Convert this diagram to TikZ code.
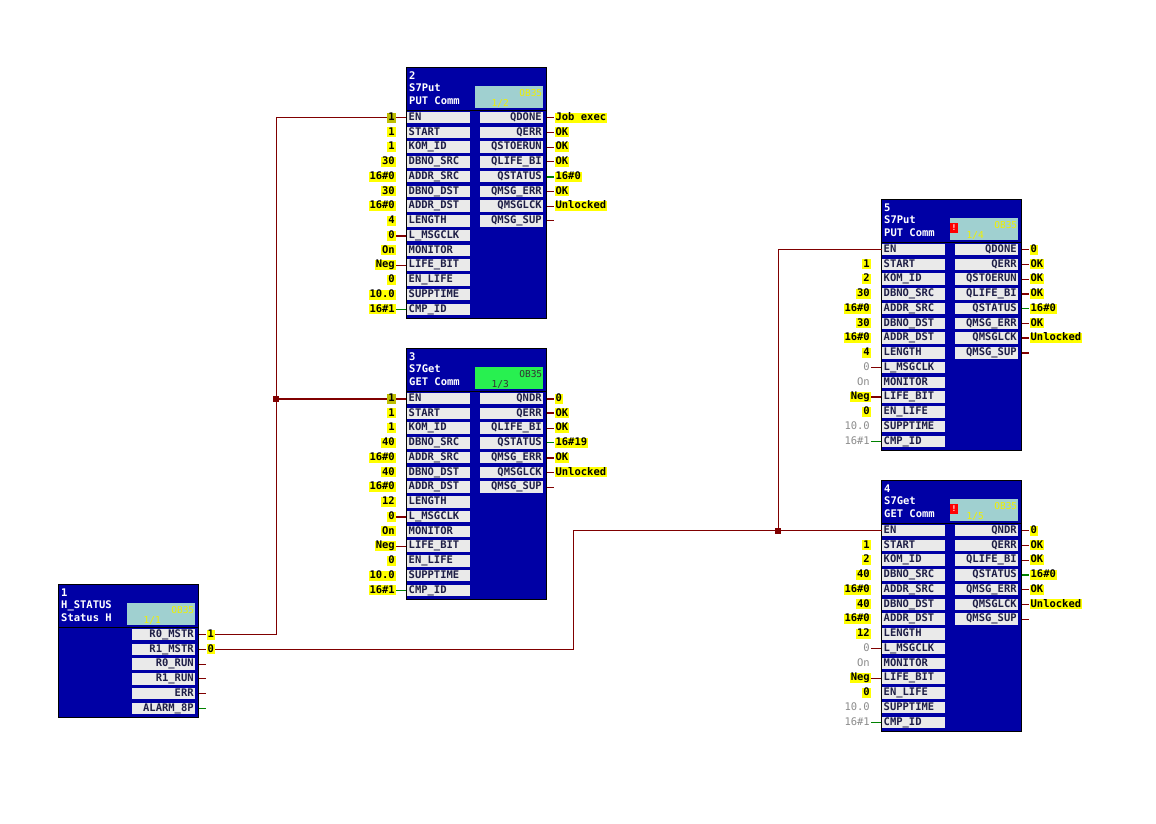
\documentclass[tikz,border=0pt]{standalone}
\usepackage{fontspec}
\setmonofont{DejaVu Sans Mono}
\usetikzlibrary{calc}

\definecolor{fbblue}{RGB}{0,0,165}
\definecolor{rowgray}{RGB}{234,234,234}
\definecolor{labink}{RGB}{30,30,70}
\definecolor{obteal}{RGB}{160,208,208}
\definecolor{obgreen}{RGB}{40,240,80}
\definecolor{obink}{RGB}{240,240,0}
\definecolor{valyellow}{RGB}{255,255,0}
\definecolor{valolive}{RGB}{190,190,0}
\definecolor{wirered}{RGB}{128,0,0}
\definecolor{wiregreen}{RGB}{0,130,0}

\begin{document}
\begin{tikzpicture}[
  x=1pt, y=-1pt,
  font=\ttfamily\bfseries\fontsize{10.5}{12}\selectfont,
  fb/.style={draw=black, line width=1.2pt, fill=fbblue, anchor=north west, minimum width=140pt, minimum height=250.5pt, inner sep=0pt},
  hdtext/.style={text=white, anchor=base west, inner sep=0pt},
  obbox/.style={fill=obteal, anchor=north west, minimum width=68pt, minimum height=22pt, inner sep=0pt},
  obtext/.style={text=obink, inner sep=0pt, font=\ttfamily\fontsize{9.5}{10}\selectfont},
  alert/.style={fill=red, text=white, inner sep=0pt, minimum width=8pt, minimum height=10pt, font=\ttfamily\bfseries\fontsize{8}{8}\selectfont},
  inbox/.style={fill=rowgray, text=labink, anchor=north west, text width=60pt, align=left, inner xsep=1.5pt, inner ysep=0pt, minimum height=11.5pt, text height=7.5pt, text depth=1.8pt},
  outbox/.style={inbox, align=right},
  vset/.style={fill=valyellow, text=black, anchor=east, inner xsep=1pt, inner ysep=0.4pt, text height=7.5pt, text depth=1.8pt},
  vconn/.style={vset, fill=valolive},
  vgray/.style={vset, fill=none, text=black!45, font=\ttfamily\fontsize{10.5}{12}\selectfont},
  vempty/.style={vset, fill=none},
  wire/.style={draw=wirered, line width=1pt},
  wiret/.style={wire, line width=2pt},
  wgreen/.style={draw=wiregreen, line width=1pt},
  wgreent/.style={wgreen, line width=2pt},
  wnone/.style={draw=none},
  jdot/.style={fill=wirered, minimum size=6pt, inner sep=0pt}
]
\fill[white] (0,0) rectangle (1156,823);
\useasboundingbox (0,0) rectangle (1156,823);

% block 1: H_STATUS
\node[fb, minimum height=132.5pt] (b1) at (58,584) {};
\node[hdtext] (b1-no) at ($(b1.north west)+(3,12)$) {1};
\node[hdtext] (b1-type) at ($(b1.north west)+(3,24.5)$) {H\_STATUS};
\node[hdtext] (b1-cmt) at ($(b1.north west)+(3,37)$) {Status H};
\node[obbox] (b1-ob) at ($(b1.north west)+(69,19)$) {};
\node[obtext, anchor=north east] (b1-obn) at ($(b1-ob.north east)+(-1,3)$) {OB35};
\node[obtext, anchor=south] (b1-obs) at ($(b1-ob.south)+(-9,-1)$) {1/1};
\draw[line width=1.2pt] ($(b1.north west)+(0,43.5)$) -- ($(b1.north east)+(0,43.5)$);
\foreach \i/\lab/\val/\vst/\wst in {1/R0\_MSTR/1/vset/wire, 2/R1\_MSTR/0/vset/wire,
    3/R0\_RUN//vempty/wire, 4/R1\_RUN//vempty/wire, 5/ERR//vempty/wire, 6/ALARM\_8P//vempty/wgreen} {
  \node[outbox] (b1-out\i) at ($(b1.north west)+(74,{44.6+(\i-1)*14.75})$) {\lab};
  \node[\vst, anchor=west] (b1-ov\i) at ($(b1-out\i.east)+(11,0)$) {\val};
  \draw[\wst] (b1-ov\i.west -| b1.east) -- (b1-ov\i.west);
}

% block 2: S7Put
\node[fb] (b2) at (406,67) {};
\node[hdtext] (b2-no) at ($(b2.north west)+(3,12)$) {2};
\node[hdtext] (b2-type) at ($(b2.north west)+(3,24.5)$) {S7Put};
\node[hdtext] (b2-cmt) at ($(b2.north west)+(3,37)$) {PUT Comm};
\node[obbox] (b2-ob) at ($(b2.north west)+(69,19)$) {};
\node[obtext, anchor=north east] (b2-obn) at ($(b2-ob.north east)+(-1,3)$) {OB35};
\node[obtext, anchor=south] (b2-obs) at ($(b2-ob.south)+(-9,-1)$) {1/2};
\draw[line width=1.2pt] ($(b2.north west)+(0,43.5)$) -- ($(b2.north east)+(0,43.5)$);
\foreach \i/\lab/\val/\vst/\wst in {1/EN/1/vconn/wire, 2/START/1/vset/wnone, 3/KOM\_ID/1/vset/wnone,
    4/DBNO\_SRC/30/vset/wnone, 5/ADDR\_SRC/16\#0/vset/wnone, 6/DBNO\_DST/30/vset/wnone,
    7/ADDR\_DST/16\#0/vset/wnone, 8/LENGTH/4/vset/wnone, 9/L\_MSGCLK/0/vset/wiret,
    10/MONITOR/On/vset/wnone, 11/LIFE\_BIT/Neg/vset/wire, 12/EN\_LIFE/0/vset/wnone,
    13/SUPPTIME/10.0/vset/wnone, 14/CMP\_ID/16\#1/vset/wgreen} {
  \node[inbox] (b2-in\i) at ($(b2.north west)+(1,{44.6+(\i-1)*14.75})$) {\lab};
  \node[\vst] (b2-iv\i) at ($(b2-in\i.west)+(-11,0)$) {\val};
  \draw[\wst] (b2-iv\i.east) -- (b2-iv\i.east -| b2.west);
}
\foreach \i/\lab/\val/\vst/\wst in {1/QDONE/Job exec/vset/wire, 2/QERR/OK/vset/wire,
    3/QSTOERUN/OK/vset/wire, 4/QLIFE\_BI/OK/vset/wire, 5/QSTATUS/16\#0/vset/wgreent,
    6/QMSG\_ERR/OK/vset/wire, 7/QMSGLCK/Unlocked/vset/wire, 8/QMSG\_SUP//vempty/wire} {
  \node[outbox] (b2-out\i) at ($(b2.north west)+(74,{44.6+(\i-1)*14.75})$) {\lab};
  \node[\vst, anchor=west] (b2-ov\i) at ($(b2-out\i.east)+(11,0)$) {\val};
  \draw[\wst] (b2-ov\i.west -| b2.east) -- (b2-ov\i.west);
}

% block 3: S7Get
\node[fb] (b3) at (406,348) {};
\node[hdtext] (b3-no) at ($(b3.north west)+(3,12)$) {3};
\node[hdtext] (b3-type) at ($(b3.north west)+(3,24.5)$) {S7Get};
\node[hdtext] (b3-cmt) at ($(b3.north west)+(3,37)$) {GET Comm};
\node[obbox, fill=obgreen] (b3-ob) at ($(b3.north west)+(69,19)$) {};
\node[obtext, text=black!80, anchor=north east] (b3-obn) at ($(b3-ob.north east)+(-1,3)$) {OB35};
\node[obtext, text=black!80, anchor=south] (b3-obs) at ($(b3-ob.south)+(-9,-1)$) {1/3};
\draw[line width=1.2pt] ($(b3.north west)+(0,43.5)$) -- ($(b3.north east)+(0,43.5)$);
\foreach \i/\lab/\val/\vst/\wst in {1/EN/1/vconn/wiret, 2/START/1/vset/wnone, 3/KOM\_ID/1/vset/wnone,
    4/DBNO\_SRC/40/vset/wnone, 5/ADDR\_SRC/16\#0/vset/wnone, 6/DBNO\_DST/40/vset/wnone,
    7/ADDR\_DST/16\#0/vset/wnone, 8/LENGTH/12/vset/wnone, 9/L\_MSGCLK/0/vset/wiret,
    10/MONITOR/On/vset/wnone, 11/LIFE\_BIT/Neg/vset/wire, 12/EN\_LIFE/0/vset/wnone,
    13/SUPPTIME/10.0/vset/wnone, 14/CMP\_ID/16\#1/vset/wgreen} {
  \node[inbox] (b3-in\i) at ($(b3.north west)+(1,{44.6+(\i-1)*14.75})$) {\lab};
  \node[\vst] (b3-iv\i) at ($(b3-in\i.west)+(-11,0)$) {\val};
  \draw[\wst] (b3-iv\i.east) -- (b3-iv\i.east -| b3.west);
}
\foreach \i/\lab/\val/\vst/\wst in {1/QNDR/0/vset/wiret, 2/QERR/OK/vset/wiret,
    3/QLIFE\_BI/OK/vset/wire, 4/QSTATUS/16\#19/vset/wgreen, 5/QMSG\_ERR/OK/vset/wiret,
    6/QMSGLCK/Unlocked/vset/wire, 7/QMSG\_SUP//vempty/wire} {
  \node[outbox] (b3-out\i) at ($(b3.north west)+(74,{44.6+(\i-1)*14.75})$) {\lab};
  \node[\vst, anchor=west] (b3-ov\i) at ($(b3-out\i.east)+(11,0)$) {\val};
  \draw[\wst] (b3-ov\i.west -| b3.east) -- (b3-ov\i.west);
}

% block 5: S7Put
\node[fb] (b5) at (881,199) {};
\node[hdtext] (b5-no) at ($(b5.north west)+(3,12)$) {5};
\node[hdtext] (b5-type) at ($(b5.north west)+(3,24.5)$) {S7Put};
\node[hdtext] (b5-cmt) at ($(b5.north west)+(3,37)$) {PUT Comm};
\node[obbox] (b5-ob) at ($(b5.north west)+(69,19)$) {};
\node[obtext, anchor=north east] (b5-obn) at ($(b5-ob.north east)+(-1,3)$) {OB35};
\node[obtext, anchor=south] (b5-obs) at ($(b5-ob.south)+(-9,-1)$) {1/4};
\node[alert] (b5-al) at ($(b5-ob.north west)+(4,10)$) {!};
\draw[line width=1.2pt] ($(b5.north west)+(0,43.5)$) -- ($(b5.north east)+(0,43.5)$);
\foreach \i/\lab/\val/\vst/\wst in {1/EN//vempty/wnone, 2/START/1/vset/wnone, 3/KOM\_ID/2/vset/wnone,
    4/DBNO\_SRC/30/vset/wnone, 5/ADDR\_SRC/16\#0/vset/wnone, 6/DBNO\_DST/30/vset/wnone,
    7/ADDR\_DST/16\#0/vset/wnone, 8/LENGTH/4/vset/wnone, 9/L\_MSGCLK/0/vgray/wire,
    10/MONITOR/On/vgray/wnone, 11/LIFE\_BIT/Neg/vset/wiret, 12/EN\_LIFE/0/vset/wnone,
    13/SUPPTIME/10.0/vgray/wnone, 14/CMP\_ID/16\#1/vgray/wgreen} {
  \node[inbox] (b5-in\i) at ($(b5.north west)+(1,{44.6+(\i-1)*14.75})$) {\lab};
  \node[\vst] (b5-iv\i) at ($(b5-in\i.west)+(-11,0)$) {\val};
  \draw[\wst] (b5-iv\i.east) -- (b5-iv\i.east -| b5.west);
}
\foreach \i/\lab/\val/\vst/\wst in {1/QDONE/0/vset/wire, 2/QERR/OK/vset/wire,
    3/QSTOERUN/OK/vset/wire, 4/QLIFE\_BI/OK/vset/wiret, 5/QSTATUS/16\#0/vset/wgreen,
    6/QMSG\_ERR/OK/vset/wire, 7/QMSGLCK/Unlocked/vset/wiret, 8/QMSG\_SUP//vempty/wiret} {
  \node[outbox] (b5-out\i) at ($(b5.north west)+(74,{44.6+(\i-1)*14.75})$) {\lab};
  \node[\vst, anchor=west] (b5-ov\i) at ($(b5-out\i.east)+(11,0)$) {\val};
  \draw[\wst] (b5-ov\i.west -| b5.east) -- (b5-ov\i.west);
}

% block 4: S7Get
\node[fb] (b4) at (881,480) {};
\node[hdtext] (b4-no) at ($(b4.north west)+(3,12)$) {4};
\node[hdtext] (b4-type) at ($(b4.north west)+(3,24.5)$) {S7Get};
\node[hdtext] (b4-cmt) at ($(b4.north west)+(3,37)$) {GET Comm};
\node[obbox] (b4-ob) at ($(b4.north west)+(69,19)$) {};
\node[obtext, anchor=north east] (b4-obn) at ($(b4-ob.north east)+(-1,3)$) {OB35};
\node[obtext, anchor=south] (b4-obs) at ($(b4-ob.south)+(-9,-1)$) {1/5};
\node[alert] (b4-al) at ($(b4-ob.north west)+(4,10)$) {!};
\draw[line width=1.2pt] ($(b4.north west)+(0,43.5)$) -- ($(b4.north east)+(0,43.5)$);
\foreach \i/\lab/\val/\vst/\wst in {1/EN//vempty/wnone, 2/START/1/vset/wnone, 3/KOM\_ID/2/vset/wnone,
    4/DBNO\_SRC/40/vset/wnone, 5/ADDR\_SRC/16\#0/vset/wnone, 6/DBNO\_DST/40/vset/wnone,
    7/ADDR\_DST/16\#0/vset/wnone, 8/LENGTH/12/vset/wnone, 9/L\_MSGCLK/0/vgray/wire,
    10/MONITOR/On/vgray/wnone, 11/LIFE\_BIT/Neg/vset/wire, 12/EN\_LIFE/0/vset/wnone,
    13/SUPPTIME/10.0/vgray/wnone, 14/CMP\_ID/16\#1/vgray/wgreen} {
  \node[inbox] (b4-in\i) at ($(b4.north west)+(1,{44.6+(\i-1)*14.75})$) {\lab};
  \node[\vst] (b4-iv\i) at ($(b4-in\i.west)+(-11,0)$) {\val};
  \draw[\wst] (b4-iv\i.east) -- (b4-iv\i.east -| b4.west);
}
\foreach \i/\lab/\val/\vst/\wst in {1/QNDR/0/vset/wire, 2/QERR/OK/vset/wire,
    3/QLIFE\_BI/OK/vset/wire, 4/QSTATUS/16\#0/vset/wgreent, 5/QMSG\_ERR/OK/vset/wire,
    6/QMSGLCK/Unlocked/vset/wire, 7/QMSG\_SUP//vempty/wire} {
  \node[outbox] (b4-out\i) at ($(b4.north west)+(74,{44.6+(\i-1)*14.75})$) {\lab};
  \node[\vst, anchor=west] (b4-ov\i) at ($(b4-out\i.east)+(11,0)$) {\val};
  \draw[\wst] (b4-ov\i.west -| b4.east) -- (b4-ov\i.west);
}

% connections
\coordinate (c1) at (276,0);
\coordinate (c2) at (573,0);
\coordinate (c3) at (778,0);
\draw[wire] (b1-ov1.east) -| (c1 |- b2-in1) -- (b2-iv1.west);
\draw[wiret] (c1 |- b3-in1) -- (b3-iv1.west);
\node[jdot] (j1) at (c1 |- b3-in1) {};
\draw[wire] (b1-ov2.east) -| (c2 |- b4-in1) -- (b4-in1.west);
\draw[wire] (c3 |- b4-in1) |- (b5-in1.west);
\node[jdot] (j2) at (c3 |- b4-in1) {};

\end{tikzpicture}
\end{document}
